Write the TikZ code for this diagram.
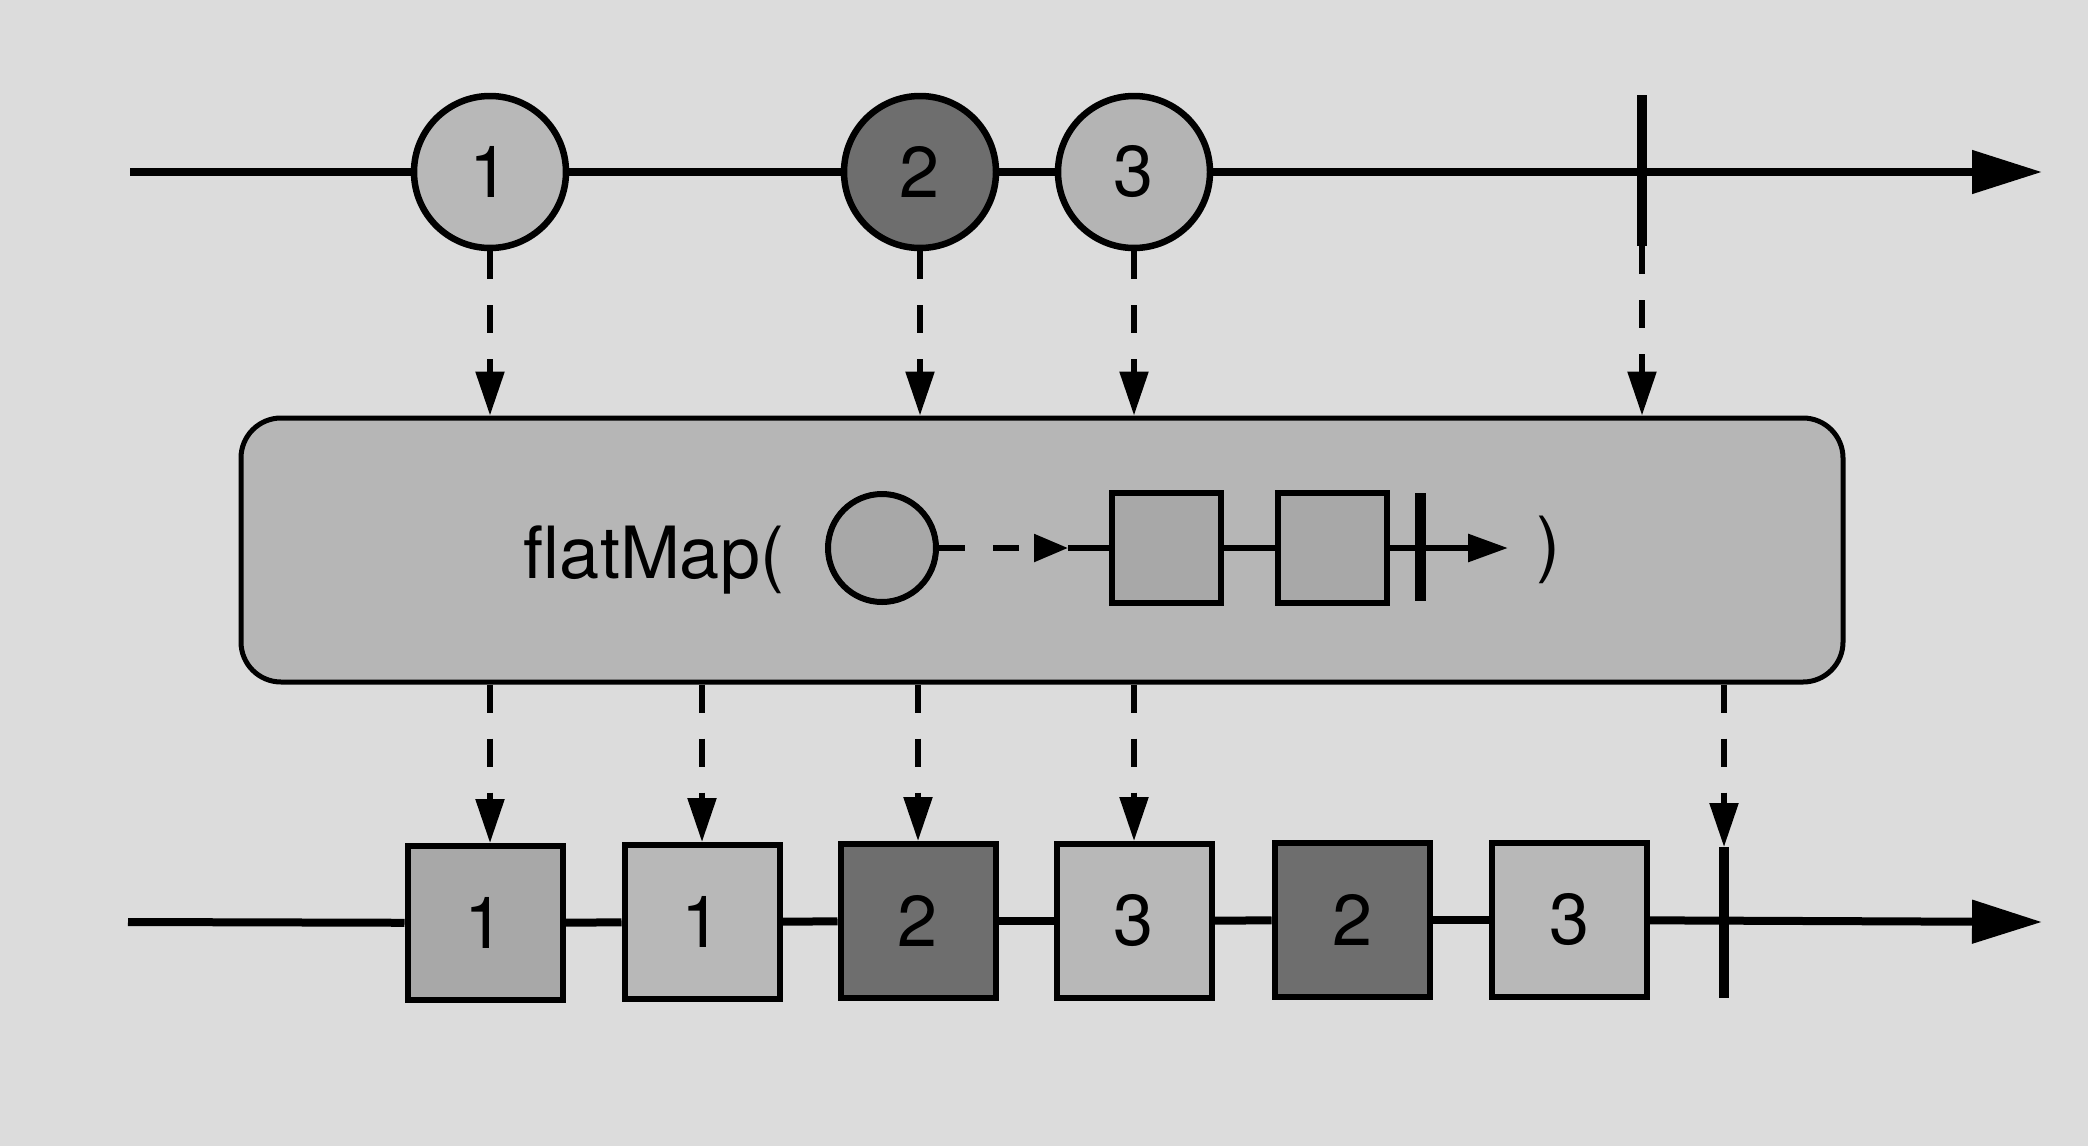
\documentclass[tikz,border=0pt]{standalone}
\usepackage{fontspec}
\setmainfont{TeX Gyre Heros}
\usetikzlibrary{arrows.meta}
\definecolor{pagebg}{HTML}{DCDCDC}
\definecolor{boxfill}{HTML}{B6B6B6}
\definecolor{lightg}{HTML}{B8B8B8}
\definecolor{midg}{HTML}{A8A8A8}
\definecolor{darkg}{HTML}{6E6E6E}
\tikzset{
  big/.style={font=\fontsize{72}{80}\selectfont},
  marble/.style={circle, draw=black, line width=6.5pt, minimum size=152pt, inner sep=0pt, big},
  itembox/.style={rectangle, draw=black, line width=6pt, minimum width=155pt, minimum height=154pt, inner sep=0pt, big},
  timeline/.style={line width=8pt},
  endbar/.style={line width=10pt},
  mainarrow/.style={timeline, -{Triangle[length=70pt,width=42pt]}},
  dasharrow/.style={line width=5.5pt, dash pattern=on 28pt off 26pt, -{Triangle[length=44pt,width=28pt]}},
  smallarrow/.style={line width=6pt, -{Triangle[length=40pt,width=27pt]}},
}
\begin{document}
\begin{tikzpicture}[x=1pt,y=-1pt]
\fill[pagebg] (0,0) rectangle (2088,1146);
\useasboundingbox (0,0) rectangle (2088,1146);

% ---- top timeline ----
\coordinate (tl) at (130,172);
\coordinate (tr) at (2042,172);
\coordinate (tbtop) at (1642,95);
\coordinate (tbbot) at (1642,246);
\node[marble, fill=lightg] (c1) at (490,172) {1};
\node[marble, fill=darkg] (c2) at (920,172) {2};
\node[marble, fill=lightg!105] (c3) at (1134,172) {3};
\draw[timeline] (tl) -- (c1);
\draw[timeline] (c1) -- (c2);
\draw[timeline] (c2) -- (c3);
\draw[mainarrow] (c3) -- (tr);
\draw[endbar] (tbtop) -- (tbbot);

% ---- operator box ----
\node[draw=black, line width=5pt, fill=boxfill, rounded corners=40pt,
      minimum width=1602pt, minimum height=264pt, inner sep=0pt] (box) at (1042,550) {};

\draw[dasharrow] (c1.south) -- (c1.south |- box.north);
\draw[dasharrow] (c2.south) -- (c2.south |- box.north);
\draw[dasharrow] (c3.south) -- (c3.south |- box.north);
\draw[dasharrow] (tbbot) -- (tbbot |- box.north);

% ---- inside the box ----
\node[big, anchor=base, inner sep=0pt] (fm) at (654,578) {flatMap(};
\node[circle, draw=black, line width=6pt, fill=midg, minimum size=108pt, inner sep=0pt] (ic) at (882,548) {};
\coordinate (itip) at (1068,548);
\node[rectangle, draw=black, line width=6pt, fill=midg, minimum width=109pt, minimum height=110pt, inner sep=0pt] (q1) at (1166,548) {};
\node[rectangle, draw=black, line width=6pt, fill=midg, minimum width=109pt, minimum height=110pt, inner sep=0pt] (q2) at (1332,548) {};
\coordinate (ibtop) at (1420,493);
\coordinate (ibbot) at (1420,601);
\coordinate (iend) at (1508,548);
\node[big, inner sep=0pt] (cp) at (1548,550) {)};
\draw[line width=5.5pt, dash pattern=on 26pt off 28pt, -{Triangle[length=34pt,width=27pt]}] (ic.east) -- (itip);
\draw[line width=6pt] (itip) -- (q1.west);
\draw[line width=6pt] (q1.east) -- (q2.west);
\draw[smallarrow] (q2.east) -- (iend);
\draw[line width=11pt] (ibtop) -- (ibbot);

% ---- bottom timeline ----
\coordinate (bl) at (128,922);
\coordinate (br) at (2042,922);
\coordinate (bbtop) at (1724,847);
\coordinate (bbbot) at (1724,998);
\node[itembox, fill=midg] (s1) at (485,923) {1};
\node[itembox, fill=lightg] (s2) at (702,922) {1};
\node[itembox, fill=darkg] (s3) at (918,921) {2};
\node[itembox, fill=lightg] (s4) at (1134,921) {3};
\node[itembox, fill=darkg] (s5) at (1352,920) {2};
\node[itembox, fill=lightg] (s6) at (1569,920) {3};
\draw[timeline] (bl) -- (s1);
\draw[timeline] (s1) -- (s2);
\draw[timeline] (s2) -- (s3);
\draw[timeline] (s3) -- (s4);
\draw[timeline] (s4) -- (s5);
\draw[timeline] (s5) -- (s6);
\draw[mainarrow] (s6) -- (br);
\draw[endbar] (bbtop) -- (bbbot);

\draw[dasharrow] (c1.south |- box.south) -- (c1.south |- s1.north);
\draw[dasharrow] (s2.north |- box.south) -- (s2.north);
\draw[dasharrow] (s3.north |- box.south) -- (s3.north);
\draw[dasharrow] (s4.north |- box.south) -- (s4.north);
\draw[dasharrow] (bbtop |- box.south) -- (bbtop);
\end{tikzpicture}
\end{document}
